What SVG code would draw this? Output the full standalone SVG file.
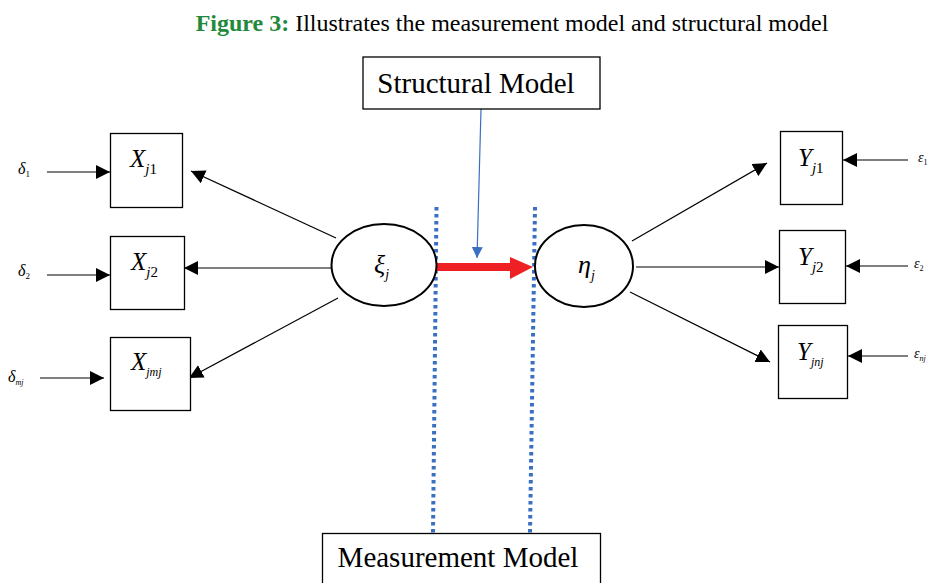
<svg xmlns="http://www.w3.org/2000/svg" width="930" height="583" viewBox="0 0 930 583">
<style>
.box{fill:#fff;stroke:#000;stroke-width:1.3}
.ell{fill:#fff;stroke:#000;stroke-width:2}
.ln{stroke:#000;stroke-width:1.2;fill:none}
.dot{stroke:#3a6fc4;stroke-width:4;stroke-dasharray:3.5,3.5;fill:none}
.t{font-family:"Liberation Serif","Times New Roman",serif;fill:#000}
.it{font-style:italic}
</style>
<defs>
<marker id="ah" viewBox="0 0 10 10" refX="10" refY="5" markerWidth="14" markerHeight="14" markerUnits="userSpaceOnUse" orient="auto">
<path d="M0,0 L10,5 L0,10 z" fill="#000"/>
</marker>
<marker id="bh" viewBox="0 0 10 10" refX="10" refY="5" markerWidth="11" markerHeight="13" markerUnits="userSpaceOnUse" orient="auto">
<path d="M0,0 L10,5 L0,10 z" fill="#3a6fc4"/>
</marker>
</defs>
<rect width="930" height="583" fill="#fff"/>
<text class="t" x="512" y="31" font-size="24" text-anchor="middle"><tspan fill="#1f8a3c" font-weight="bold">Figure 3:</tspan> Illustrates the measurement model and structural model</text>

<g id="connectors">
<line class="ln" x1="47" y1="172" x2="110" y2="172" marker-end="url(#ah)"/>
<line class="ln" x1="47" y1="275" x2="110" y2="275" marker-end="url(#ah)"/>
<line class="ln" x1="40" y1="378" x2="104" y2="378" marker-end="url(#ah)"/>
<line class="ln" x1="336" y1="238" x2="191" y2="171" marker-end="url(#ah)"/>
<line class="ln" x1="331" y1="268" x2="184" y2="268" marker-end="url(#ah)"/>
<line class="ln" x1="338" y1="298" x2="189" y2="378" marker-end="url(#ah)"/>
<line class="ln" x1="632" y1="241" x2="767" y2="163" marker-end="url(#ah)"/>
<line class="ln" x1="636" y1="267" x2="779" y2="267" marker-end="url(#ah)"/>
<line class="ln" x1="630" y1="292" x2="770" y2="362" marker-end="url(#ah)"/>
<line class="ln" x1="908" y1="160" x2="843" y2="160" marker-end="url(#ah)"/>
<line class="ln" x1="908" y1="266" x2="846" y2="266" marker-end="url(#ah)"/>
<line class="ln" x1="908" y1="356" x2="848" y2="356" marker-end="url(#ah)"/>
<line x1="481" y1="109" x2="477" y2="258" stroke="#3a6fc4" stroke-width="1.2" marker-end="url(#bh)"/>
<line class="dot" x1="436.5" y1="207" x2="433" y2="533"/>
<line class="dot" x1="535" y1="207" x2="530" y2="533"/>
<path d="M437,263 L510,263 L510,257 L533,267 L510,279 L510,271 L437,271 z" fill="#ee2024"/>
</g>

<g id="structural">
<rect class="box" x="363" y="57" width="237" height="52"/>
<text class="t" x="476" y="93" font-size="29" text-anchor="middle">Structural Model</text>
</g>
<g id="measurement">
<rect class="box" x="322.5" y="533.5" width="278" height="60"/>
<text class="t" x="458" y="567" font-size="29" text-anchor="middle">Measurement Model</text>
</g>

<g id="xi">
<ellipse class="ell" cx="384" cy="265" rx="52.5" ry="41"/>
<text class="t it" x="374" y="273" font-size="26">ξ<tspan font-size="14" dy="6">j</tspan></text>
</g>
<g id="eta">
<ellipse class="ell" cx="584" cy="266" rx="49" ry="41"/>
<text class="t it" x="578" y="273" font-size="26">η<tspan font-size="14" dy="7">j</tspan></text>
</g>

<g id="xj1">
<rect class="box" x="110.5" y="133.5" width="72" height="74"/>
<text class="t it" x="130" y="167" font-size="25">X<tspan font-size="15" dy="7">j</tspan><tspan font-size="15" font-style="normal">1</tspan></text>
</g>
<g id="xj2">
<rect class="box" x="110.5" y="236.5" width="74" height="73"/>
<text class="t it" x="131" y="270" font-size="25">X<tspan font-size="15" dy="7">j</tspan><tspan font-size="15" font-style="normal">2</tspan></text>
</g>
<g id="xjmj">
<rect class="box" x="110.5" y="337.5" width="80" height="73"/>
<text class="t it" x="131" y="370" font-size="25">X<tspan font-size="12" dy="6">jmj</tspan></text>
</g>

<g id="yj1">
<rect class="box" x="780.5" y="131.5" width="62" height="73"/>
<text class="t it" x="798" y="166" font-size="25">Y<tspan font-size="15" dy="7">j</tspan><tspan font-size="15" font-style="normal">1</tspan></text>
</g>
<g id="yj2">
<rect class="box" x="779.5" y="230.5" width="66" height="73"/>
<text class="t it" x="798" y="265" font-size="25">Y<tspan font-size="15" dy="7">j</tspan><tspan font-size="15" font-style="normal">2</tspan></text>
</g>
<g id="yjnj">
<rect class="box" x="778.5" y="325.5" width="69" height="73"/>
<text class="t it" x="797" y="360" font-size="25">Y<tspan font-size="12" dy="6">jnj</tspan></text>
</g>

<g id="d1"><text class="t it" x="18" y="174" font-size="16">δ<tspan font-size="9" dy="3" font-style="normal">1</tspan></text></g>
<g id="d2"><text class="t it" x="18" y="276" font-size="16">δ<tspan font-size="9" dy="3" font-style="normal">2</tspan></text></g>
<g id="dmj"><text class="t it" x="8" y="382" font-size="16">δ<tspan font-size="8" dy="3">mj</tspan></text></g>
<g id="e1"><text class="t it" x="918" y="162" font-size="14">ε<tspan font-size="8" dy="3" font-style="normal">1</tspan></text></g>
<g id="e2"><text class="t it" x="914" y="268" font-size="14">ε<tspan font-size="8" dy="3" font-style="normal">2</tspan></text></g>
<g id="enj"><text class="t it" x="914" y="358" font-size="14">ε<tspan font-size="8" dy="3">nj</tspan></text></g>
</svg>
